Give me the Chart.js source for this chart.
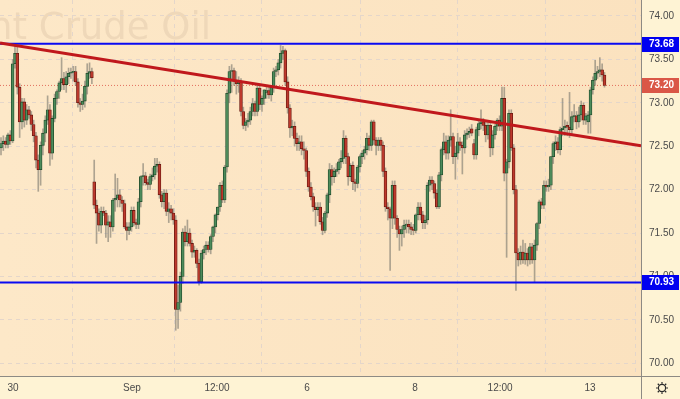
<!DOCTYPE html>
<html>
<head>
<meta charset="utf-8">
<script src="https://cdn.jsdelivr.net/npm/chart.js@4.4.0/dist/chart.umd.min.js"></script>
<style>
  html, body { margin: 0; padding: 0; background: #fef3d4; }
</style>
</head>
<body>
<canvas id="chart" width="680" height="399"></canvas>
<script>
// candles, in time order (one per bar)
var opens = [
  72.48, 72.53, 72.56, 72.52, 72.63, 72.56, 73.45, 73.57, 73.18, 72.78, 73.01, 72.80, 72.92, 72.86, 72.75, 72.62, 72.34, 72.23, 72.51, 72.65, 72.80, 72.92, 72.42, 72.82, 73.05, 73.13, 73.23, 73.28, 73.21, 73.30, 73.34, 73.35, 73.36, 73.24, 73.00, 72.98, 73.02, 73.19, 73.34, 73.36, 72.09, 71.82, 71.73, 71.59, 71.75, 71.73, 71.59,
  71.63, 71.57, 71.88, 71.90, 71.94, 71.88, 71.84, 71.57, 71.53, 71.57, 71.76, 71.62, 71.60, 71.86, 72.15, 72.16, 72.08, 72.06, 72.15, 72.17, 72.27, 72.29, 71.94, 71.86, 71.96, 71.75, 71.78, 71.73, 71.65, 70.62, 70.70, 71.00, 71.51, 71.40, 71.50, 71.38, 71.28, 71.30, 71.15, 70.94, 71.27, 71.31, 71.36, 71.31, 71.46, 71.57,
  71.71, 71.80, 72.05, 71.88, 72.26, 73.11, 73.36, 73.37, 73.26, 73.22, 73.25, 72.90, 72.74, 72.78, 72.80, 72.90, 72.99, 72.90, 73.17, 72.98, 73.05, 73.12, 73.14, 73.09, 73.18, 73.36, 73.38, 73.46, 73.57, 73.60, 73.24, 72.94, 72.71, 72.73, 72.59, 72.53, 72.55, 72.47, 72.45, 72.21, 72.03, 71.92, 71.80,
  71.77, 71.80, 71.63, 71.53, 71.73, 71.94, 72.23, 72.15, 72.21, 72.23, 72.32, 72.36, 72.59, 72.38, 72.15, 72.28, 72.09, 72.07, 72.26, 72.38, 72.42, 72.46, 72.59, 72.51, 72.78, 72.57, 72.51, 72.57, 72.51, 72.21, 71.80, 71.78, 71.67, 72.05, 71.67, 71.54, 71.49, 71.54, 71.59, 71.60, 71.57, 71.54, 71.53, 71.71, 71.80,
  71.71, 71.62, 71.65, 72.05, 72.11, 72.07, 71.96, 71.80, 72.17, 72.46, 72.55, 72.42, 72.57, 72.61, 72.38, 72.42, 72.55, 72.51, 72.48, 72.63, 72.65, 72.70, 72.53, 72.40, 72.69, 72.76, 72.78, 72.74, 72.63, 72.74, 72.48, 72.63, 72.73, 72.80, 72.73, 73.05, 72.19, 72.32, 72.88, 72.48, 72.00, 71.27, 71.19, 71.28, 71.19,
  71.27, 71.19, 71.34, 71.19, 71.36, 71.61, 71.86, 71.82, 72.05, 72.03, 72.05, 72.38, 72.53, 72.55, 72.46, 72.69, 72.71, 72.74, 72.72, 72.69, 72.84, 72.85, 72.78, 72.86, 72.97, 72.80, 72.78, 72.86, 73.15, 73.26, 73.34, 73.36, 73.38, 73.32
];
var highs = [
  72.60, 72.62, 72.60, 72.65, 72.68, 73.50, 73.68, 73.66, 73.22, 73.05, 73.05, 72.98, 72.96, 72.90, 72.80, 72.66, 72.40, 72.55, 72.70, 72.85, 73.08, 72.98, 72.85, 73.10, 73.15, 73.25, 73.52, 73.35, 73.36, 73.40, 73.40, 73.42, 73.42, 73.28, 73.05, 73.10, 73.25, 73.45, 73.46, 73.40, 72.34, 71.88, 71.78, 71.80, 71.80, 71.76, 71.70,
  71.70, 71.90, 72.18, 72.13, 72.00, 71.92, 71.88, 71.62, 71.62, 71.80, 71.80, 71.66, 71.90, 72.16, 72.30, 72.20, 72.12, 72.18, 72.25, 72.36, 72.36, 72.32, 71.98, 72.00, 72.00, 71.85, 71.82, 71.78, 71.70, 70.90, 71.05, 71.55, 71.58, 71.65, 71.55, 71.42, 71.35, 71.32, 71.20, 71.30, 71.35, 71.40, 71.40, 71.48, 71.58, 71.72,
  71.80, 72.08, 72.10, 72.28, 73.15, 73.42, 73.44, 73.40, 73.36, 73.30, 73.28, 72.95, 72.82, 72.88, 72.95, 73.05, 73.02, 73.22, 73.20, 73.08, 73.15, 73.20, 73.18, 73.20, 73.40, 73.42, 73.50, 73.66, 73.65, 73.62, 73.30, 72.98, 72.80, 72.78, 72.65, 72.62, 72.62, 72.55, 72.48, 72.25, 72.08, 71.96, 71.85,
  71.85, 71.85, 71.68, 71.75, 71.96, 72.30, 72.28, 72.25, 72.30, 72.35, 72.45, 72.68, 72.62, 72.42, 72.30, 72.32, 72.12, 72.28, 72.40, 72.45, 72.50, 72.65, 72.62, 72.80, 72.80, 72.60, 72.60, 72.60, 72.55, 72.25, 71.85, 71.80, 72.10, 72.10, 71.70, 71.58, 71.58, 71.65, 71.65, 71.65, 71.62, 71.60, 71.72, 71.85, 71.85,
  71.75, 71.70, 72.08, 72.15, 72.15, 72.10, 72.00, 72.20, 72.48, 72.65, 72.62, 72.62, 72.92, 72.65, 72.50, 72.65, 72.60, 72.55, 72.68, 72.70, 72.72, 72.75, 72.58, 72.72, 72.80, 72.92, 72.82, 72.78, 72.78, 72.78, 72.68, 72.75, 72.82, 72.85, 73.18, 73.18, 72.35, 72.92, 72.92, 72.52, 72.05, 71.32, 71.35, 71.42, 71.38,
  71.32, 71.38, 71.38, 71.42, 71.62, 71.88, 71.90, 72.10, 72.10, 72.12, 72.38, 72.55, 72.62, 72.60, 72.72, 73.05, 72.80, 72.78, 73.12, 72.90, 72.98, 72.90, 72.95, 73.02, 73.00, 72.88, 72.90, 73.18, 73.30, 73.49, 73.42, 73.52, 73.45, 73.35
];
var lows = [
  72.40, 72.45, 72.48, 72.48, 72.52, 72.54, 73.40, 73.10, 72.60, 72.70, 72.72, 72.75, 72.82, 72.68, 72.55, 72.25, 71.98, 72.05, 72.40, 72.55, 72.75, 72.28, 72.35, 72.78, 72.98, 73.05, 73.15, 73.15, 73.12, 73.22, 73.28, 73.25, 73.20, 72.95, 72.90, 72.92, 72.95, 73.10, 73.28, 73.22, 71.78, 71.38, 71.52, 71.50, 71.70, 71.45, 71.40,
  71.45, 71.52, 71.75, 71.80, 71.80, 71.75, 71.55, 71.42, 71.48, 71.52, 71.58, 71.55, 71.55, 71.80, 72.05, 72.05, 72.00, 72.00, 72.10, 72.12, 72.20, 71.90, 71.80, 71.78, 71.70, 71.62, 71.65, 71.60, 70.38, 70.40, 70.60, 70.92, 71.35, 71.35, 71.35, 71.22, 71.22, 71.10, 70.90, 70.92, 71.20, 71.25, 71.28, 71.26, 71.40, 71.50,
  71.65, 71.75, 71.85, 71.85, 72.20, 73.00, 73.12, 73.20, 73.10, 73.12, 72.85, 72.70, 72.68, 72.72, 72.75, 72.85, 72.85, 72.85, 72.92, 72.90, 72.98, 73.05, 73.05, 73.02, 73.12, 73.30, 73.32, 73.40, 73.50, 73.20, 72.88, 72.60, 72.62, 72.50, 72.45, 72.45, 72.40, 72.35, 72.15, 71.98, 71.88, 71.75, 71.58,
  71.70, 71.60, 71.48, 71.50, 71.68, 71.85, 72.05, 72.08, 72.15, 72.18, 72.25, 72.30, 72.30, 72.05, 72.10, 72.00, 71.98, 72.02, 72.20, 72.30, 72.35, 72.40, 72.45, 72.45, 72.52, 72.40, 72.45, 72.45, 72.15, 71.75, 71.65, 71.07, 71.55, 71.60, 71.45, 71.30, 71.35, 71.45, 71.50, 71.50, 71.48, 71.48, 71.50, 71.65, 71.65,
  71.55, 71.55, 71.60, 71.98, 72.00, 71.90, 71.78, 71.78, 72.10, 72.40, 72.35, 72.35, 72.50, 72.30, 72.12, 72.35, 72.45, 72.18, 72.42, 72.58, 72.60, 72.62, 72.35, 72.35, 72.62, 72.70, 72.68, 72.55, 72.58, 72.38, 72.40, 72.58, 72.68, 72.68, 72.68, 72.10, 71.22, 72.25, 72.45, 71.95, 70.84, 71.12, 71.14, 71.15, 71.14,
  71.12, 71.14, 71.15, 70.93, 71.30, 71.55, 71.78, 71.78, 71.98, 71.98, 72.00, 72.30, 72.45, 72.42, 72.40, 72.62, 72.62, 72.62, 72.60, 72.62, 72.78, 72.70, 72.72, 72.80, 72.75, 72.75, 72.65, 72.65, 73.10, 73.20, 73.28, 73.30, 73.25, 73.18
];
var closes = [
  72.53, 72.56, 72.52, 72.63, 72.56, 73.45, 73.57, 73.18, 72.78, 73.01, 72.80, 72.92, 72.86, 72.75, 72.62, 72.34, 72.23, 72.51, 72.65, 72.80, 72.92, 72.42, 72.82, 73.05, 73.13, 73.23, 73.28, 73.21, 73.30, 73.34, 73.35, 73.36, 73.24, 73.00, 72.98, 73.02, 73.19, 73.34, 73.36, 73.29, 71.82, 71.73, 71.59, 71.75, 71.73, 71.59, 71.63,
  71.57, 71.88, 71.90, 71.94, 71.88, 71.84, 71.57, 71.53, 71.57, 71.76, 71.62, 71.60, 71.86, 72.15, 72.16, 72.08, 72.06, 72.15, 72.17, 72.27, 72.29, 71.94, 71.86, 71.96, 71.75, 71.78, 71.73, 71.65, 70.62, 70.70, 71.00, 71.51, 71.40, 71.50, 71.38, 71.28, 71.30, 71.15, 70.94, 71.27, 71.31, 71.36, 71.31, 71.46, 71.57, 71.71,
  71.80, 72.05, 71.88, 72.26, 73.11, 73.36, 73.37, 73.26, 73.22, 73.25, 72.90, 72.74, 72.78, 72.80, 72.90, 72.99, 72.90, 73.17, 72.98, 73.05, 73.15, 73.14, 73.09, 73.18, 73.36, 73.38, 73.46, 73.57, 73.60, 73.24, 72.94, 72.71, 72.73, 72.59, 72.53, 72.55, 72.47, 72.45, 72.21, 72.03, 71.92, 71.80, 71.77,
  71.80, 71.63, 71.53, 71.73, 71.94, 72.23, 72.15, 72.21, 72.23, 72.32, 72.36, 72.59, 72.38, 72.15, 72.28, 72.09, 72.07, 72.26, 72.38, 72.42, 72.46, 72.59, 72.51, 72.78, 72.57, 72.51, 72.57, 72.51, 72.21, 71.80, 71.78, 71.67, 72.05, 71.67, 71.54, 71.49, 71.54, 71.59, 71.60, 71.57, 71.54, 71.53, 71.71, 71.80, 71.71,
  71.62, 71.65, 72.05, 72.11, 72.07, 71.96, 71.80, 72.17, 72.46, 72.55, 72.42, 72.57, 72.61, 72.38, 72.42, 72.55, 72.51, 72.48, 72.63, 72.65, 72.67, 72.65, 72.40, 72.69, 72.76, 72.78, 72.74, 72.63, 72.74, 72.48, 72.63, 72.73, 72.80, 72.73, 73.05, 72.19, 72.32, 72.88, 72.48, 72.00, 71.27, 71.19, 71.28, 71.19, 71.27,
  71.19, 71.34, 71.19, 71.36, 71.61, 71.86, 71.82, 72.05, 72.03, 72.05, 72.38, 72.53, 72.55, 72.46, 72.69, 72.71, 72.73, 72.72, 72.69, 72.84, 72.85, 72.78, 72.86, 72.97, 72.80, 72.85, 72.86, 73.15, 73.26, 73.34, 73.36, 73.38, 73.32, 73.20
];

// axis ticks
var yTicks = [70.00, 70.50, 71.00, 71.50, 72.00, 72.50, 73.00, 73.50, 74.00];
var xTickPos = [5.15, 56.2, 92.7, 131.3, 177.7, 214.2, 252.8];   // bar index of each date label
var xTickLabels = ['30', 'Sep', '12:00', '6', '8', '12:00', '13'];

// drawn levels
var resistance = 73.68;
var support = 70.93;
var lastPrice = 73.20;
var trendFrom = 73.69;   // trend line value at left edge
var trendTo = 72.505;    // trend line value at right edge

var xMin = -0.43, xMax = 274.67;
var yMin = 69.853, yMax = 74.184;

if (opens.length !== closes.length || highs.length !== closes.length || lows.length !== closes.length) {
  throw new Error('length mismatch ' + opens.length + ' ' + highs.length + ' ' + lows.length + ' ' + closes.length);
}

var wickData = [], bodyData = [], bodyFill = [], bodyEdge = [];
for (var i = 0; i < closes.length; i++) {
  wickData.push({ x: i, y: [lows[i], highs[i]] });
  bodyData.push({ x: i, y: [opens[i], closes[i]] });
  var up = closes[i] >= opens[i];
  bodyFill.push(up ? '#4d8b5b' : '#bd392c');
  bodyEdge.push(up ? '#1f4a2a' : '#6a1810');
}

function hline(v) {
  return [{ x: xMin, y: v }, { x: xMax, y: v }];
}

var font = { family: 'Liberation Sans', size: 10 };

var paintPlugin = {
  id: 'paint',
  beforeDraw: function (chart) {
    var c = chart.ctx, a = chart.chartArea;
    c.save();
    c.fillStyle = '#fef3d4';
    c.fillRect(0, 0, chart.width, chart.height);
    var g = c.createLinearGradient(a.left, 0, a.right, 0);
    g.addColorStop(0, '#fde8c8');
    g.addColorStop(1, '#fbe2bf');
    c.fillStyle = g;
    c.fillRect(a.left, a.top, a.right - a.left, a.bottom - a.top);
    // watermark
    c.font = '37px "DejaVu Sans"';
    c.fillStyle = '#efd8b9';
    c.textAlign = 'right';
    c.textBaseline = 'alphabetic';
    c.fillText('Brent Crude Oil', 211, 39);
    c.restore();
  },
  afterDraw: function (chart) {
    var c = chart.ctx, a = chart.chartArea, ys = chart.scales.y;
    c.save();
    // frame
    c.strokeStyle = '#8d8a84';
    c.lineWidth = 1;
    c.beginPath();
    c.moveTo(a.right + 0.5, 0);
    c.lineTo(a.right + 0.5, chart.height);
    c.moveTo(0, a.bottom + 0.5);
    c.lineTo(chart.width, a.bottom + 0.5);
    c.stroke();
    // price tags
    function tag(v, bg) {
      var y = Math.round(ys.getPixelForValue(v));
      c.fillStyle = bg;
      c.fillRect(a.right + 1, y - 7, 37, 15);
      c.fillStyle = '#ffffff';
      c.font = 'bold 10px "Liberation Sans"';
      c.textAlign = 'left';
      c.textBaseline = 'middle';
      c.fillText(v.toFixed(2), a.right + 8, y + 0.5);
    }
    tag(resistance, '#0000f0');
    tag(lastPrice, '#da5747');
    tag(support, '#0000f0');
    // settings icon
    var cx = 662, cy = 388;
    c.strokeStyle = '#2a2a2a';
    c.lineWidth = 1.2;
    c.beginPath();
    c.arc(cx, cy, 3.6, 0, Math.PI * 2);
    c.stroke();
    c.beginPath();
    for (var k = 0; k < 8; k++) {
      var ang = k * Math.PI / 4;
      c.moveTo(cx + Math.cos(ang) * 4.2, cy + Math.sin(ang) * 4.2);
      c.lineTo(cx + Math.cos(ang) * 6, cy + Math.sin(ang) * 6);
    }
    c.stroke();
    c.restore();
  }
};

new Chart(document.getElementById('chart'), {
  type: 'bar',
  data: {
    datasets: [
      {
        type: 'line', data: hline(lastPrice), borderColor: '#e2705f', borderWidth: 1,
        borderDash: [1, 2], pointRadius: 0, order: 5
      },
      {
        type: 'bar', data: wickData, backgroundColor: 'rgba(120,118,108,0.6)',
        barThickness: 1, grouped: false, order: 4
      },
      {
        type: 'bar', data: bodyData, backgroundColor: bodyFill, borderColor: bodyEdge,
        borderWidth: 0.8, borderSkipped: false, barThickness: 2.9, minBarLength: 1,
        grouped: false, order: 3
      },
      {
        type: 'line', data: hline(resistance), borderColor: '#0a0af2', borderWidth: 2,
        pointRadius: 0, order: 1
      },
      {
        type: 'line', data: hline(support), borderColor: '#0a0af2', borderWidth: 2,
        pointRadius: 0, order: 1
      },
      {
        type: 'line', data: [{ x: xMin, y: trendFrom }, { x: xMax, y: trendTo }],
        borderColor: '#c0181c', borderWidth: 3, pointRadius: 0, order: 0
      }
    ]
  },
  options: {
    responsive: false,
    animation: false,
    layout: { padding: 0 },
    plugins: { legend: { display: false }, tooltip: { enabled: false } },
    scales: {
      x: {
        type: 'linear', position: 'bottom', min: xMin, max: xMax, offset: false,
        grid: { color: '#e4d6ca', drawTicks: false },
        border: { display: false, dash: [4, 4] },
        afterBuildTicks: function (s) { s.ticks = xTickPos.map(function (v) { return { value: v }; }); },
        afterFit: function (s) { s.height = 23; s.paddingLeft = 0; s.paddingRight = 0; },
        ticks: {
          autoSkip: false, maxRotation: 0, padding: 6, color: '#4a4a4a', font: font,
          callback: function (v, idx) { return xTickLabels[idx]; }
        }
      },
      y: {
        type: 'linear', position: 'right', min: yMin, max: yMax,
        grid: { color: '#e4d6ca', drawTicks: false },
        border: { display: false, dash: [4, 4] },
        afterBuildTicks: function (s) { s.ticks = yTicks.map(function (v) { return { value: v }; }); },
        afterFit: function (s) { s.width = 39; s.paddingTop = 0; s.paddingBottom = 0; },
        ticks: {
          padding: 8, color: '#4a4a4a', font: font,
          callback: function (v) { return Number(v).toFixed(2); }
        }
      }
    }
  },
  plugins: [paintPlugin]
});
</script>
</body>
</html>
